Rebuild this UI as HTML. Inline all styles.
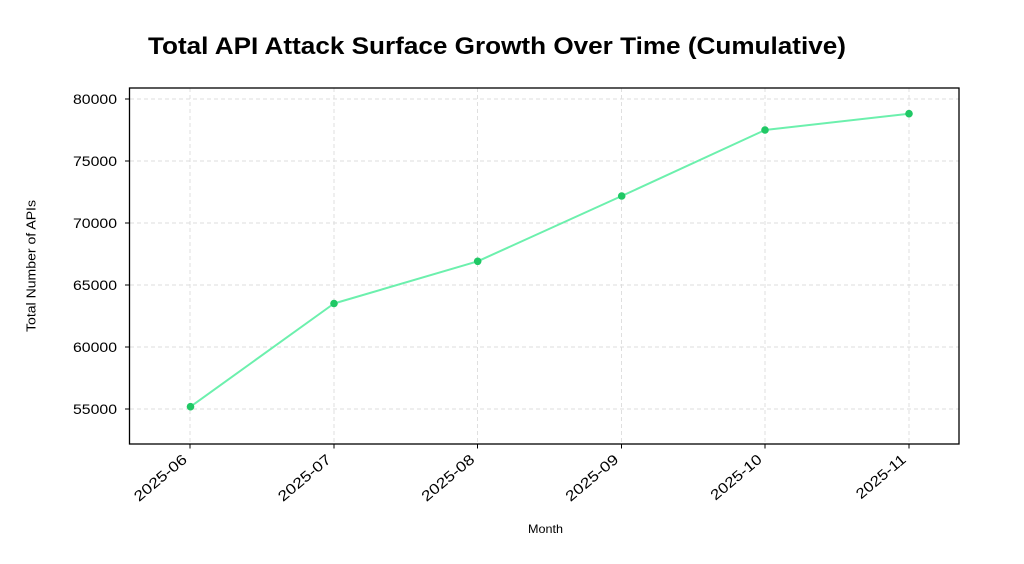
<!DOCTYPE html>
<html>
<head>
<meta charset="utf-8">
<style>
  html, body { margin: 0; padding: 0; background: #ffffff; }
  svg { display: block; }
  text { font-family: "Liberation Sans", "DejaVu Sans", sans-serif; fill: #000; }
</style>
</head>
<body>
<svg width="1024" height="564" viewBox="0 0 1024 564" xmlns="http://www.w3.org/2000/svg">
  <rect x="0" y="0" width="1024" height="564" fill="#ffffff"/>

  <!-- Title -->
  <text x="148" y="54" font-size="24" font-weight="bold" textLength="698" lengthAdjust="spacingAndGlyphs">Total API Attack Surface Growth Over Time (Cumulative)</text>

  <!-- Grid -->
  <g stroke="#dcdcdc" stroke-width="0.9" stroke-dasharray="4,3" fill="none">
    <line x1="130" y1="99" x2="959" y2="99"/>
    <line x1="130" y1="161" x2="959" y2="161"/>
    <line x1="130" y1="223" x2="959" y2="223"/>
    <line x1="130" y1="285" x2="959" y2="285"/>
    <line x1="130" y1="347" x2="959" y2="347"/>
    <line x1="130" y1="409" x2="959" y2="409"/>
    <line x1="190" y1="88" x2="190" y2="444"/>
    <line x1="334" y1="88" x2="334" y2="444"/>
    <line x1="477.5" y1="88" x2="477.5" y2="444"/>
    <line x1="621.5" y1="88" x2="621.5" y2="444"/>
    <line x1="765" y1="88" x2="765" y2="444"/>
    <line x1="909" y1="88" x2="909" y2="444"/>
  </g>

  <!-- Data line -->
  <polyline fill="none" stroke="#6cf0ad" stroke-width="2" stroke-linejoin="round"
    points="190.5,406.7 334,303.5 477.7,261.3 621.7,196 765,130 909,113.7"/>
  <g fill="#20c865">
    <circle cx="190.5" cy="406.7" r="3.8"/>
    <circle cx="334" cy="303.5" r="3.8"/>
    <circle cx="477.7" cy="261.3" r="3.8"/>
    <circle cx="621.7" cy="196" r="3.8"/>
    <circle cx="765" cy="130" r="3.8"/>
    <circle cx="909" cy="113.7" r="3.8"/>
  </g>

  <!-- Axes frame -->
  <rect x="129.5" y="88" width="829.5" height="356" fill="none" stroke="#000" stroke-width="1.3"/>

  <!-- Ticks -->
  <g stroke="#000" stroke-width="1">
    <line x1="125" y1="99" x2="129.5" y2="99"/>
    <line x1="125" y1="161" x2="129.5" y2="161"/>
    <line x1="125" y1="223" x2="129.5" y2="223"/>
    <line x1="125" y1="285" x2="129.5" y2="285"/>
    <line x1="125" y1="347" x2="129.5" y2="347"/>
    <line x1="125" y1="409" x2="129.5" y2="409"/>
    <line x1="190" y1="444" x2="190" y2="448.5"/>
    <line x1="334" y1="444" x2="334" y2="448.5"/>
    <line x1="477.5" y1="444" x2="477.5" y2="448.5"/>
    <line x1="621.5" y1="444" x2="621.5" y2="448.5"/>
    <line x1="765" y1="444" x2="765" y2="448.5"/>
    <line x1="909" y1="444" x2="909" y2="448.5"/>
  </g>

  <g font-size="14" text-anchor="end">
    <text x="117" y="104" textLength="44" lengthAdjust="spacingAndGlyphs">80000</text>
    <text x="117" y="166" textLength="44" lengthAdjust="spacingAndGlyphs">75000</text>
    <text x="117" y="228" textLength="44" lengthAdjust="spacingAndGlyphs">70000</text>
    <text x="117" y="290" textLength="44" lengthAdjust="spacingAndGlyphs">65000</text>
    <text x="117" y="352" textLength="44" lengthAdjust="spacingAndGlyphs">60000</text>
    <text x="117" y="414" textLength="44" lengthAdjust="spacingAndGlyphs">55000</text>
  </g>

  <!-- X tick labels -->
  <g font-size="14.5" text-anchor="end">
    <text transform="translate(188,461) rotate(-40)" textLength="64" lengthAdjust="spacingAndGlyphs">2025-06</text>
    <text transform="translate(332,461) rotate(-40)" textLength="64" lengthAdjust="spacingAndGlyphs">2025-07</text>
    <text transform="translate(475.5,461) rotate(-40)" textLength="64" lengthAdjust="spacingAndGlyphs">2025-08</text>
    <text transform="translate(619.5,461) rotate(-40)" textLength="64" lengthAdjust="spacingAndGlyphs">2025-09</text>
    <text transform="translate(763,461) rotate(-40)" textLength="62" lengthAdjust="spacingAndGlyphs">2025-10</text>
    <text transform="translate(907,461) rotate(-40)" textLength="60" lengthAdjust="spacingAndGlyphs">2025-11</text>
  </g>

  <!-- Axis labels -->
  <text x="545.5" y="533" font-size="12" text-anchor="middle" textLength="35" lengthAdjust="spacingAndGlyphs">Month</text>
  <text transform="translate(35.5,266) rotate(-90)" font-size="12.5" text-anchor="middle" textLength="132" lengthAdjust="spacingAndGlyphs">Total Number of APIs</text>
</svg>
</body>
</html>
